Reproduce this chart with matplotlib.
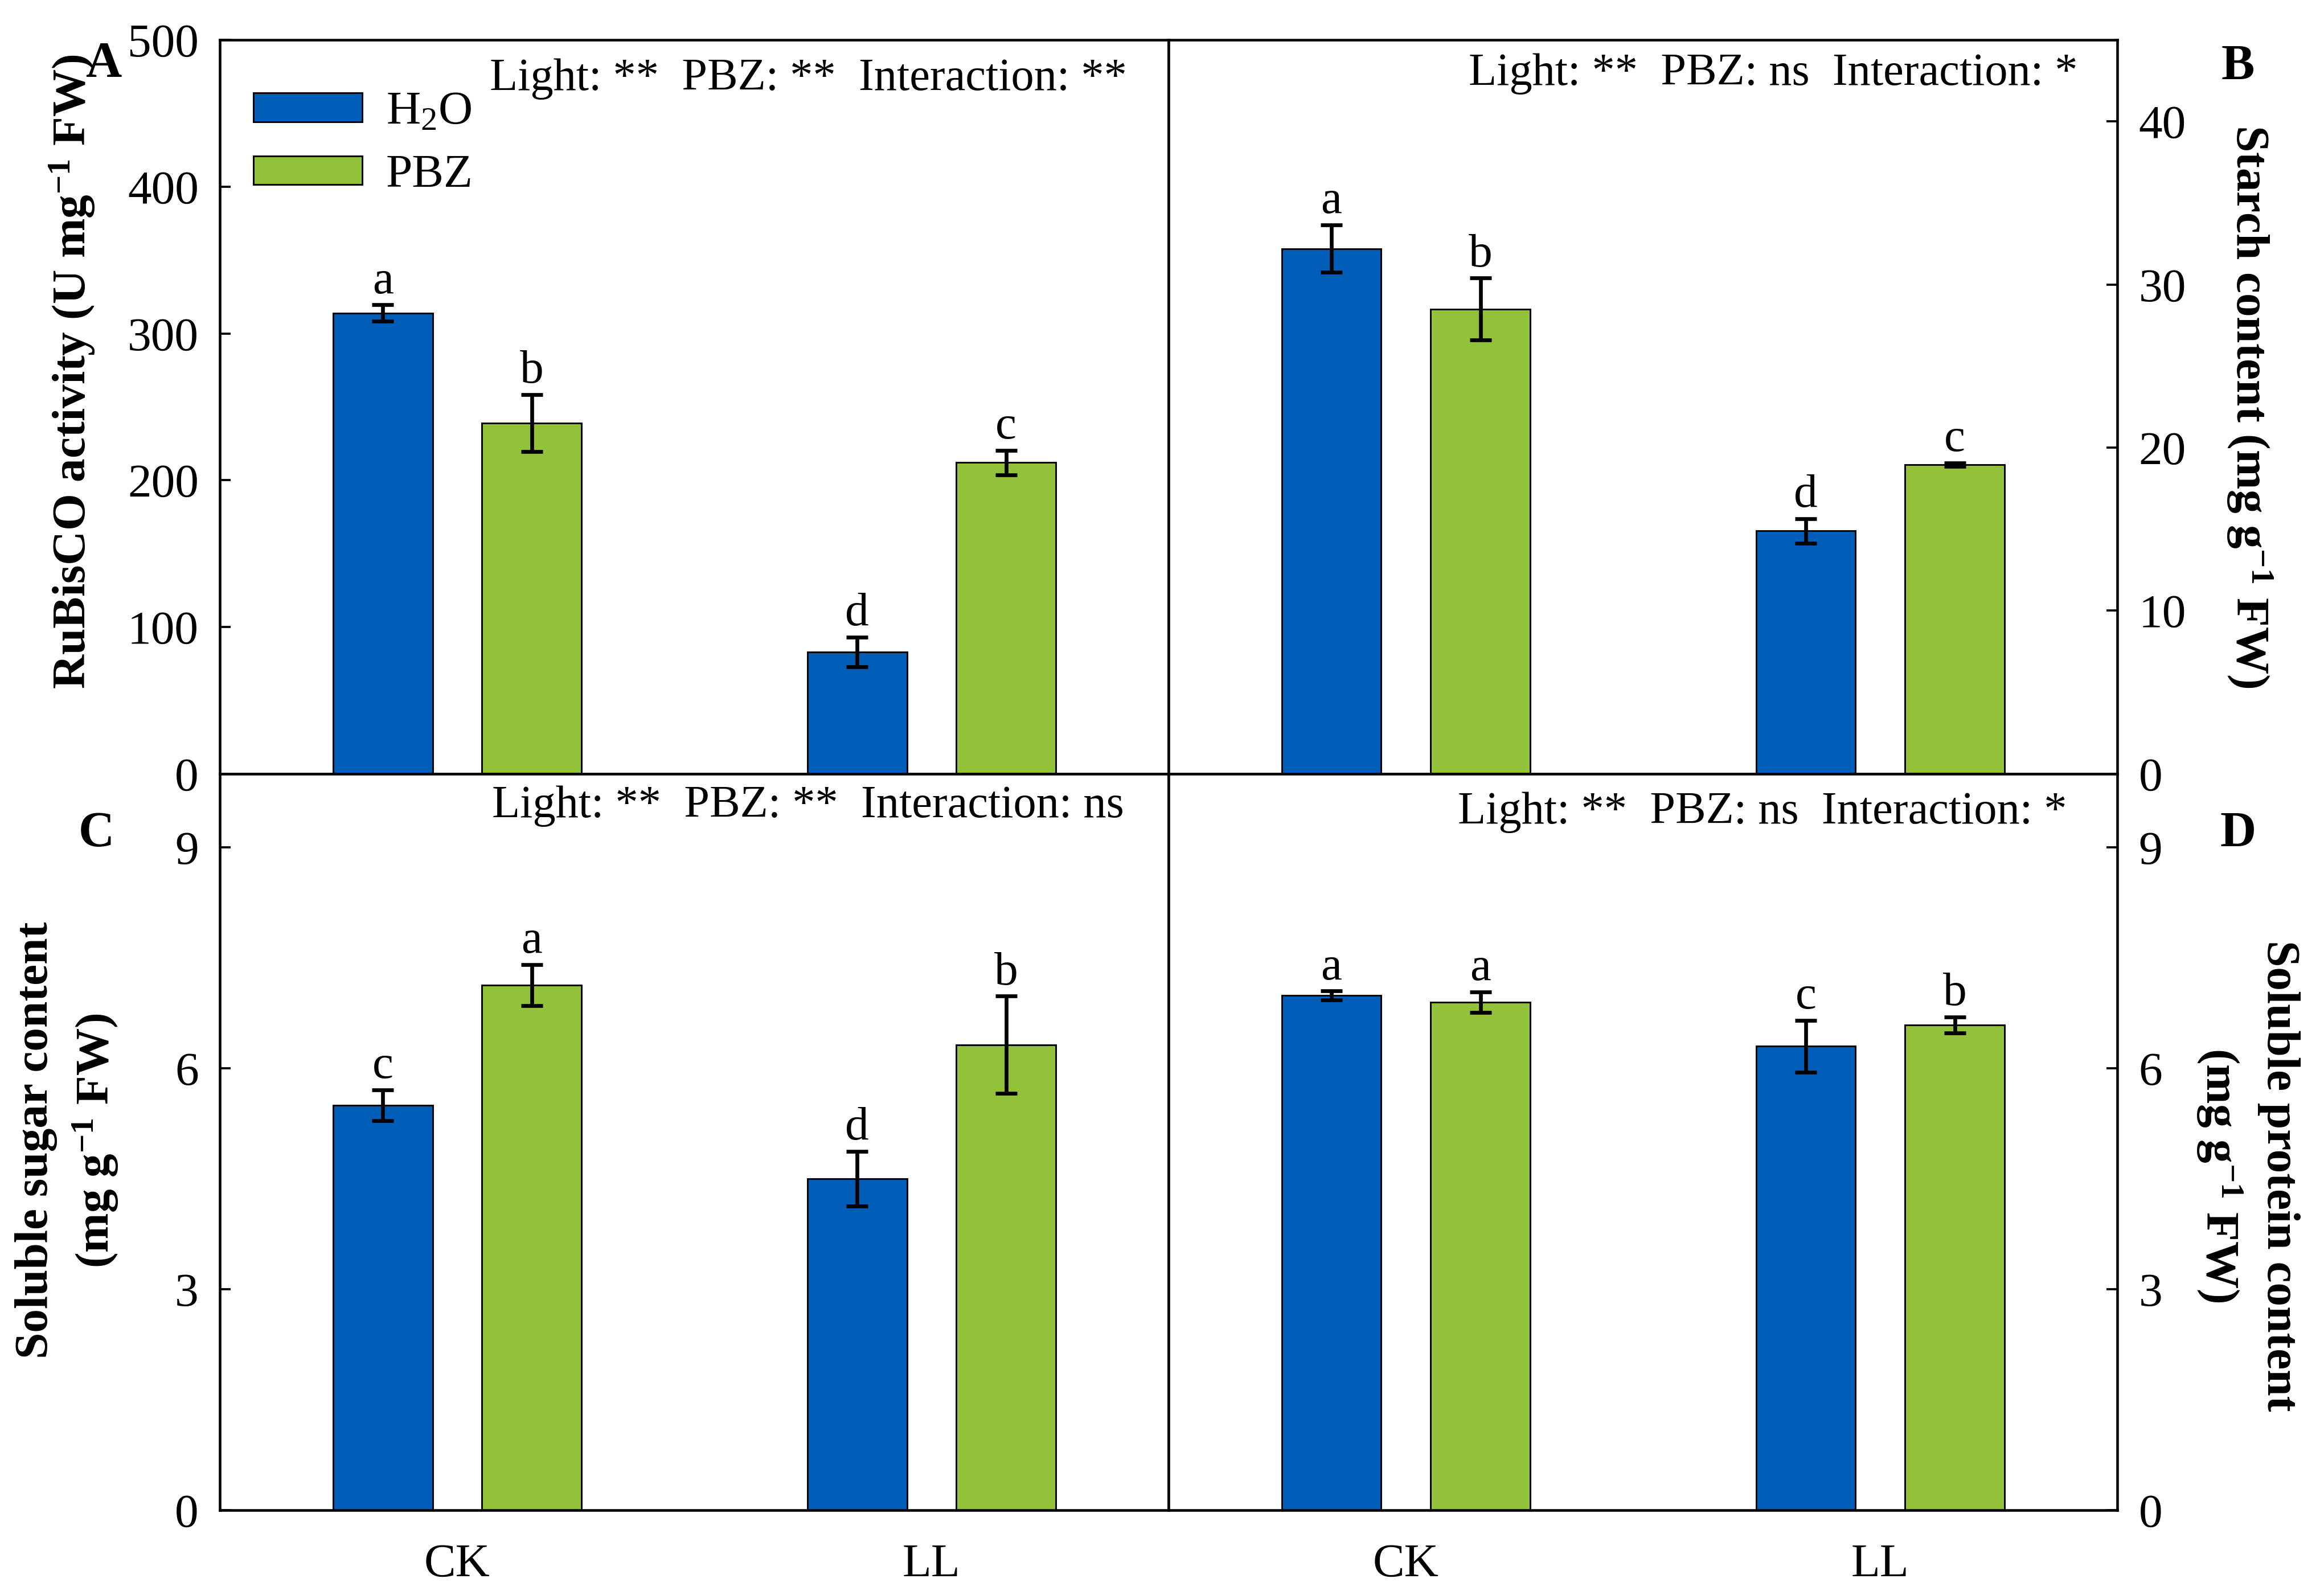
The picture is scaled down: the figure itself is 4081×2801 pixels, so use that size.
import matplotlib
matplotlib.use('Agg')
import matplotlib.pyplot as plt
import numpy as np

plt.rcParams['font.family'] = ['Liberation Serif', 'DejaVu Serif']
plt.rcParams['mathtext.fontset'] = 'custom'
plt.rcParams['mathtext.rm'] = 'Liberation Serif'
plt.rcParams['mathtext.bf'] = 'Liberation Serif:bold'
plt.rcParams['mathtext.default'] = 'regular'

# data
lights = ['CK', 'LL']
treatments = ['H$_2$O', 'PBZ']
colors = ['#005EB8', '#93C13A']

rub_h2o = [314, 83]; rub_h2o_err = [5.5, 10]
rub_pbz = [239, 212]; rub_pbz_err = [19.5, 8.5]
rub_let = [['a', 'd'], ['b', 'c']]

starch_h2o = [32.2, 14.9]; starch_h2o_err = [1.45, 0.75]
starch_pbz = [28.5, 18.95]; starch_pbz_err = [1.9, 0.1]
starch_let = [['a', 'd'], ['b', 'c']]

sugar_h2o = [5.50, 4.50]; sugar_h2o_err = [0.21, 0.37]
sugar_pbz = [7.13, 6.32]; sugar_pbz_err = [0.28, 0.66]
sugar_let = [['c', 'd'], ['a', 'b']]

prot_h2o = [6.99, 6.30]; prot_h2o_err = [0.06, 0.35]
prot_pbz = [6.90, 6.59]; prot_pbz_err = [0.14, 0.11]
prot_let = [['a', 'c'], ['a', 'b']]

stats = ['Light: **  PBZ: **  Interaction: **',
         'Light: **  PBZ: ns  Interaction: *',
         'Light: **  PBZ: **  Interaction: ns',
         'Light: **  PBZ: ns  Interaction: *']

FS = 20

fig = plt.figure(figsize=(4081/300, 2801/300), dpi=300)
L, M, R = 0.0947, 0.5029, 0.9111
T, MID, B = 0.9749, 0.5149, 0.0531
axA = fig.add_axes([L, MID, M-L, T-MID])
axB = fig.add_axes([M, MID, R-M, T-MID])
axC = fig.add_axes([L, B, M-L, MID-B])
axD = fig.add_axes([M, B, R-M, MID-B])

def draw_panel(ax, h2o, h2o_err, pbz, pbz_err, letters, ylim, yticks, stat, sx, sy, right=False, xlabels=False):
    x = np.arange(1, len(lights)+1)
    off = 0.157
    w = 0.21
    series = [(h2o, h2o_err), (pbz, pbz_err)]
    for k, (vals, errs) in enumerate(series):
        xs = x + (-off if k == 0 else off)
        ax.bar(xs, vals, w, color=colors[k], edgecolor='black', linewidth=0.7,
               label=treatments[k], zorder=2)
        ax.errorbar(xs, vals, yerr=errs, fmt='none', ecolor='black',
                    elinewidth=1.6, capsize=4.5, capthick=1.6, zorder=3)
        for xi, v, e, t in zip(xs, vals, errs, letters[k]):
            ax.annotate(t, (xi, v+e), xytext=(0, 5), textcoords='offset points',
                        ha='center', va='baseline', fontsize=FS)
    ax.set_xlim(0.5, 2.5)
    ax.set_ylim(*ylim)
    ax.set_yticks(yticks)
    ax.set_yticklabels([str(t) for t in yticks])
    ax.tick_params(axis='y', direction='in', length=4.5, width=0.9, labelsize=FS, pad=9)
    if right:
        ax.yaxis.tick_right()
        ax.tick_params(axis='y', which='both', left=False, labelleft=False,
                       right=True, labelright=True)
    ax.set_xticks(x)
    if xlabels:
        ax.set_xticklabels(lights)
        ax.tick_params(axis='x', length=0, labelsize=FS, pad=14)
    else:
        ax.set_xticklabels([])
        ax.tick_params(axis='x', length=0)
    for sp in ax.spines.values():
        sp.set_linewidth(1.1)
    ax.text(sx, sy, stat, transform=ax.transAxes, ha='right', va='center', fontsize=FS-0.7)

draw_panel(axA, rub_h2o, rub_h2o_err, rub_pbz, rub_pbz_err, rub_let, (0, 500),
           [0, 100, 200, 300, 400, 500], stats[0], 0.956, 0.947)
draw_panel(axB, starch_h2o, starch_h2o_err, starch_pbz, starch_pbz_err, starch_let, (0, 45),
           [0, 10, 20, 30, 40], stats[1], 0.958, 0.954, right=True)
draw_panel(axC, sugar_h2o, sugar_h2o_err, sugar_pbz, sugar_pbz_err, sugar_let, (0, 10),
           [0, 3, 6, 9], stats[2], 0.953, 0.956, xlabels=True)
draw_panel(axD, prot_h2o, prot_h2o_err, prot_pbz, prot_pbz_err, prot_let, (0, 10),
           [0, 3, 6, 9], stats[3], 0.947, 0.948, right=True, xlabels=True)

axA.legend(loc='upper left', bbox_to_anchor=(0.035, 0.93), frameon=False,
           fontsize=FS, handlelength=2.3, handleheight=0.55, handletextpad=0.5,
           labelspacing=0.42, borderpad=0, borderaxespad=0)

# axis labels and panel letters
fig.text(0.031, 0.767, 'RuBisCO activity (U mg$^{-1}$ FW)', rotation=90,
         ha='center', va='center', fontsize=FS, fontweight='bold')
fig.text(0.968, 0.745, 'Starch content (mg g$^{-1}$ FW)', rotation=270,
         ha='center', va='center', fontsize=FS, fontweight='bold')
fig.text(0.029, 0.285, 'Soluble sugar content\n(mg g$^{-1}$ FW)', rotation=90,
         ha='center', va='center', fontsize=FS, fontweight='bold', linespacing=1.35)
fig.text(0.967, 0.263, 'Soluble protein content\n(mg g$^{-1}$ FW)', rotation=270,
         ha='center', va='center', fontsize=FS, fontweight='bold', linespacing=1.35)

for lab, (px, py) in zip('ABCD', [(0.0445, 0.96), (0.963, 0.958), (0.0416, 0.477), (0.963, 0.477)]):
    fig.text(px, py, lab, ha='center', va='center', fontsize=FS+1, fontweight='bold')

fig.savefig('out.png', dpi=300, facecolor='white')
